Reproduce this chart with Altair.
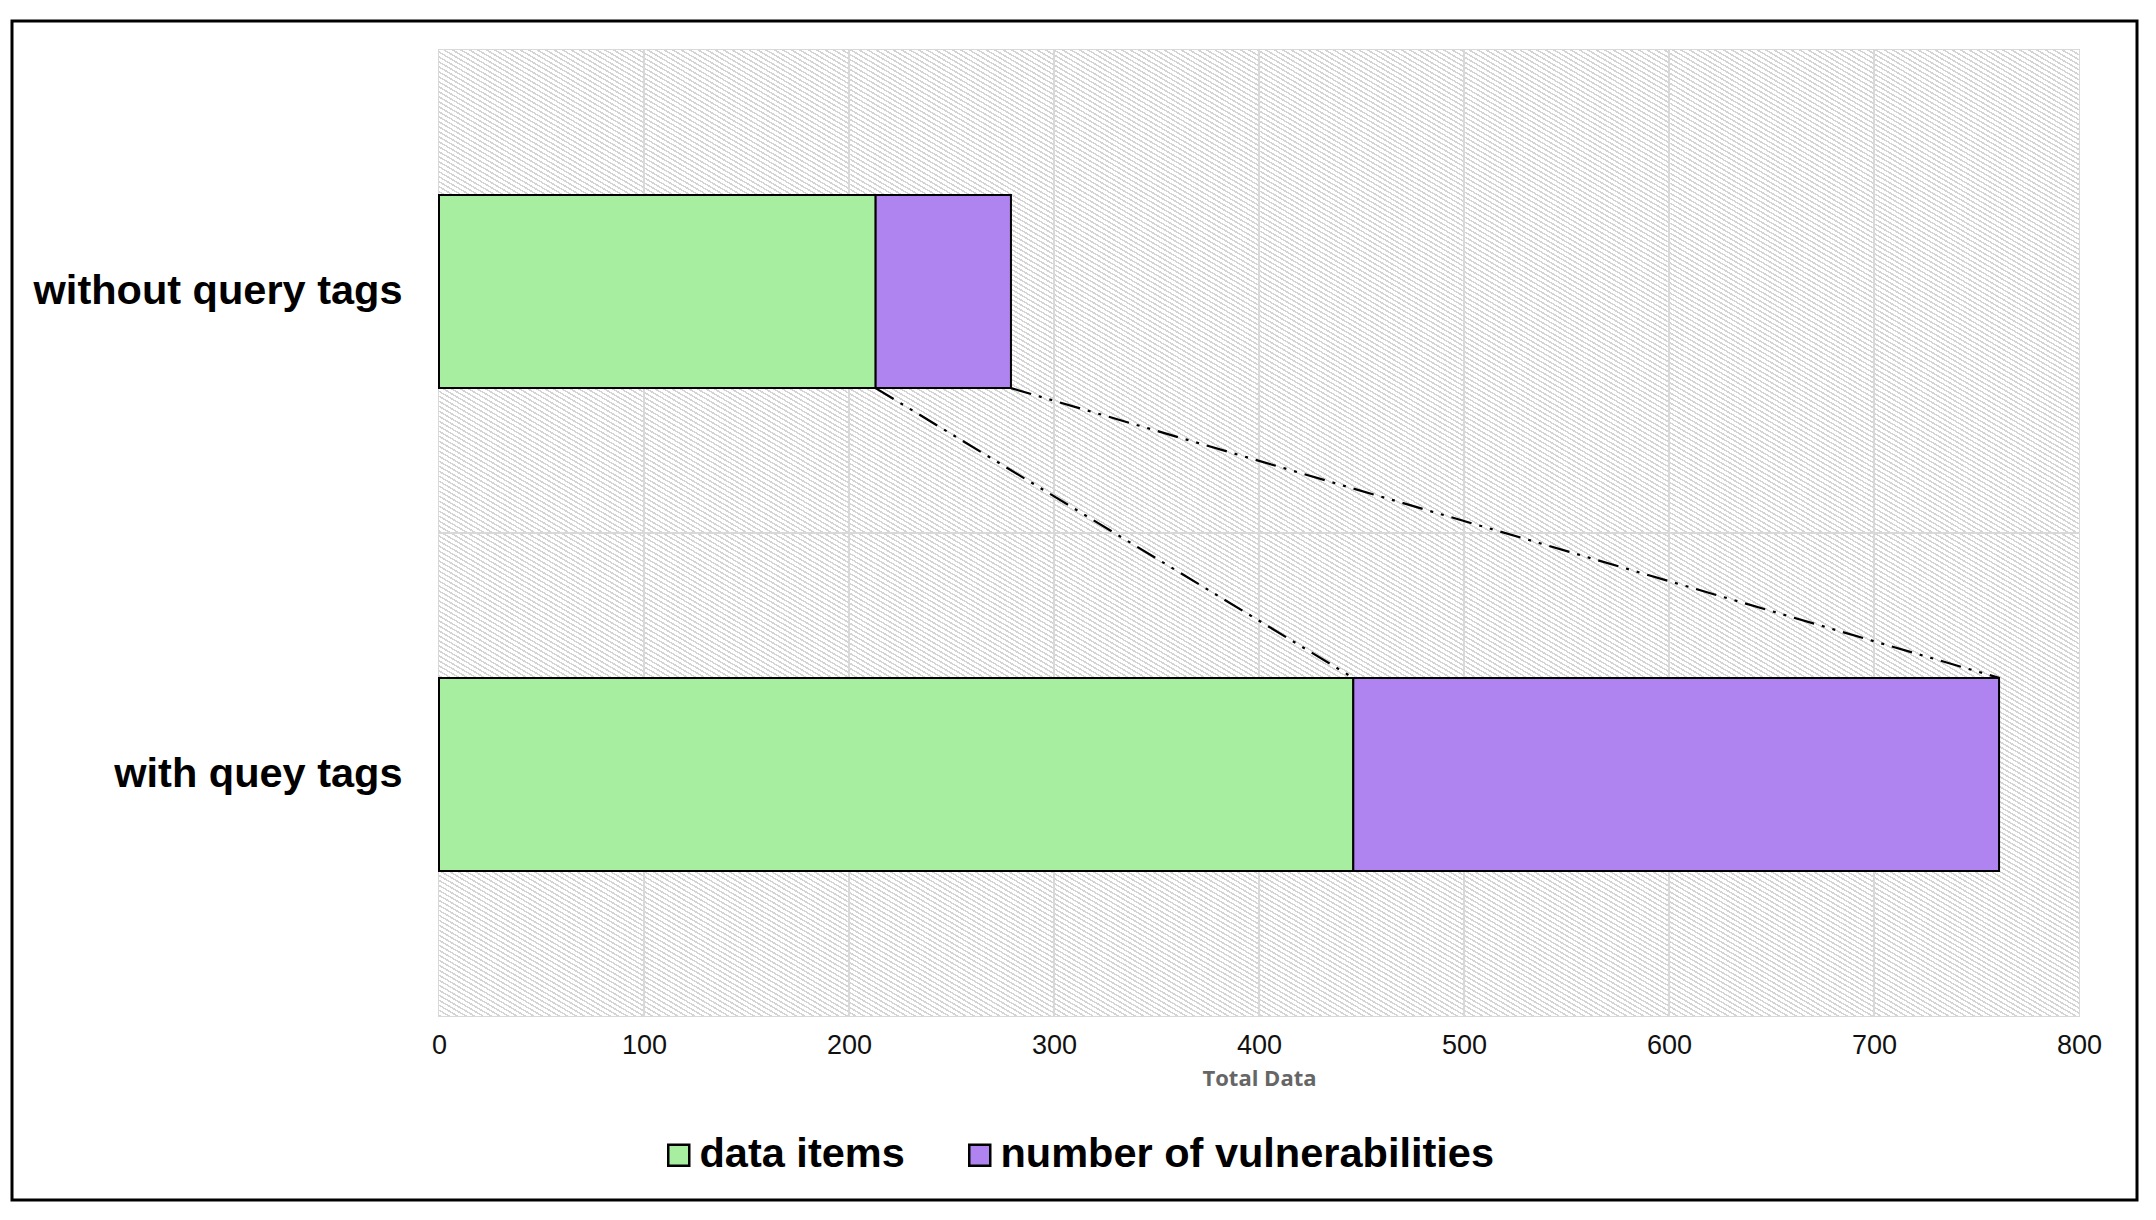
import json
import altair as alt
import pandas as pd

categories = ["without query tags", "with quey tags"]
series = ["data items", "number of vulnerabilities"]
data_items = [213, 446]
vulnerabilities = [66, 315]
x_ticks = [0, 100, 200, 300, 400, 500, 600, 700, 800]
colors = ["#a7eea0", "#b084f0"]

W, H = 1640, 966

rows = []
for i, c in enumerate(categories):
    start = 0
    for k, (s, vals) in enumerate(zip(series, [data_items, vulnerabilities])):
        v = vals[i]
        rows.append({"category": c, "series": s, "order": k, "value": v,
                     "start": start, "end": start + v,
                     "y0": i + 0.3, "y1": i + 0.7})
        start += v
bars_df = pd.DataFrame(rows)

totals = [d + v for d, v in zip(data_items, vulnerabilities)]
conn_df = pd.DataFrame({
    "xa": [data_items[0], totals[0]],
    "xb": [data_items[1], totals[1]],
    "ya": [0.7, 0.7],
    "yb": [1.3, 1.3],
})
grid_df = pd.DataFrame({"tick": x_ticks[1:-1]})

label_expr = f"{json.dumps(categories)}[floor(datum.value)]"

yscale = alt.Scale(domain=[0, 2], reverse=True, nice=False, zero=False)
xscale = alt.Scale(domain=[0, 800], nice=False)

x_axis = alt.Axis(values=x_ticks, grid=False, ticks=False, domain=False,
                  labelFont="Liberation Sans", labelFlush=False,
                  labelFontSize=27, labelColor="#111111", labelPadding=16,
                  title="Total Data", titleFont="Open Sans", titleFontSize=22,
                  titleFontWeight="bold", titleColor="#666666", titlePadding=10)
y_axis = alt.Axis(values=[0.5, 1.5], labelExpr=label_expr, grid=False, ticks=False,
                  domain=False, labelFont="Liberation Sans", labelFontSize=41.5,
                  labelFontWeight="bold", labelColor="black", labelPadding=37,
                  labelLimit=800, title="")

# diagonal hatch texture for the plot background (a striped gradient)
span = 2 * W * H / (W ** 2 + H ** 2) ** 0.5
period = 4.3 / span
line_w = 1.5 / span
stops = []
t = 0.0
while t < 1.0:
    a, b = t, min(t + line_w, 1.0)
    stops += [alt.GradientStop(color="#ffffff", offset=a),
              alt.GradientStop(color="#d4d4d4", offset=a),
              alt.GradientStop(color="#d4d4d4", offset=b),
              alt.GradientStop(color="#ffffff", offset=b)]
    t += period
hatch_fill = alt.LinearGradient(gradient="linear", stops=stops, x1=0, y1=1, x2=1, y2=0)

hatch = alt.Chart(pd.DataFrame({"k": [0]})).mark_rect(fill=hatch_fill, strokeWidth=0).encode(
    x=alt.value(0), x2=alt.value(W), y=alt.value(0), y2=alt.value(H)
)

grid = alt.Chart(grid_df).mark_rule(color="#d9d9d9", strokeWidth=2).encode(
    x=alt.X("tick:Q", scale=xscale, axis=x_axis)
)

mid_rule = alt.Chart(pd.DataFrame({"y": [1.0]})).mark_rule(
    color="#d9d9d9", strokeWidth=2
).encode(y=alt.Y("y:Q", scale=yscale, axis=y_axis))

bars = alt.Chart(bars_df).mark_bar(stroke="black", strokeWidth=2, opacity=1).encode(
    x=alt.X("start:Q", scale=xscale, axis=x_axis),
    x2="end:Q",
    y=alt.Y("y0:Q", scale=yscale, axis=y_axis),
    y2="y1:Q",
    color=alt.Color("series:N", scale=alt.Scale(domain=series, range=colors),
                    legend=alt.Legend(orient="none", legendX=219, legendY=1084,
                                      direction="horizontal", title=None,
                                      labelFont="Liberation Sans", labelFontSize=41.5,
                                      labelFontWeight="bold", labelColor="black",
                                      symbolType="square", symbolSize=441,
                                      symbolStrokeColor="black", symbolStrokeWidth=2.5,
                                      symbolOpacity=1,
                                      columnPadding=54, labelOffset=0,
                                      padding=0, labelLimit=800)),
    order=alt.Order("order:Q"),
)

connectors = alt.Chart(conn_df).mark_rule(
    color="black", strokeWidth=2.2, strokeDash=[21, 8, 3, 8, 3, 8]
).encode(
    x=alt.X("xa:Q", scale=xscale, axis=x_axis),
    x2="xb:Q",
    y=alt.Y("ya:Q", scale=yscale, axis=y_axis),
    y2="yb:Q",
)

frame = alt.Chart(pd.DataFrame({"k": [0]})).mark_rect(
    fill="transparent", stroke="black", strokeWidth=3
).encode(
    x=alt.value(-427), x2=alt.value(1698), y=alt.value(-29), y2=alt.value(1150)
)

chart = alt.layer(hatch, grid, mid_rule, bars, connectors, frame).properties(
    width=W, height=H,
    autosize=alt.AutoSizeParams(type="none"),
    padding={"left": 431, "top": 42, "right": 60, "bottom": 192},
    background="white",
).configure_view(fill="#ffffff", stroke="#d9d9d9", strokeWidth=2)

chart.save("out.html", embed_options={"renderer": "svg", "actions": False})
